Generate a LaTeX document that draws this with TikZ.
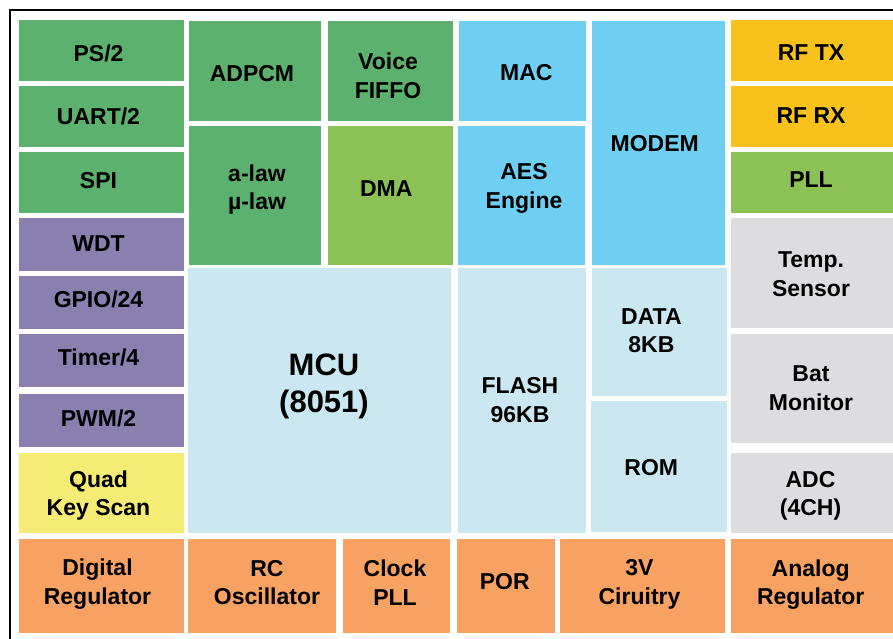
\documentclass[tikz,border=0pt]{standalone}
\usepackage{fontspec}
\setmainfont{Liberation Sans}
\usetikzlibrary{calc}
\definecolor{cgreen}{RGB}{93,177,110}
\definecolor{clgreen}{RGB}{139,193,85}
\definecolor{cpurple}{RGB}{138,127,175}
\definecolor{cyellow}{RGB}{245,236,117}
\definecolor{cblue}{RGB}{110,207,243}
\definecolor{clblue}{RGB}{203,232,242}
\definecolor{cgold}{RGB}{248,193,28}
\definecolor{cgray}{RGB}{221,221,223}
\definecolor{corange}{RGB}{247,162,99}
% box from (x1,y1) to (x2,y2), text centred at (cx,cy)
\newcommand\blkbox[7][]{%
  \fill[#3] (#4) rectangle (#5);
  \node[blk,#1] (#2) at (#6) {#7};}
\begin{document}
\begin{tikzpicture}[x=1pt,y=-1pt,
  blk/.style={inner sep=0pt, outer sep=0pt, align=center, text depth=0pt,
    font=\fontsize{23}{28.5}\selectfont\bfseries},
  big/.style={font=\fontsize{31}{37}\selectfont\bfseries}]
\useasboundingbox (0,0) rectangle (893,638);
\clip (0,0) rectangle (893,638);
% frame
\draw[line width=2.4pt] (10,700) -- (10,10) -- (950,10);
% left column
\blkbox{ps2}{cgreen}{19,20}{184,80.7}{98.5,53.3}{PS/2}
\blkbox{uart}{cgreen}{19,86}{184,146.7}{98.5,115.7}{UART/2}
\blkbox{spi}{cgreen}{19,152}{184,212.7}{98.5,180}{SPI}
\blkbox{wdt}{cpurple}{19,218}{184,270.7}{98.5,243.3}{WDT}
\blkbox{gpio}{cpurple}{19,276}{184,328.7}{98.5,299.5}{GPIO/24}
\blkbox{timer}{cpurple}{19,334}{184,386.7}{98.5,357}{Timer/4}
\blkbox{pwm}{cpurple}{19,394}{184,446.7}{98.5,418}{PWM/2}
\blkbox{quad}{cyellow}{19,453}{184,532.7}{98.5,493}{Quad\\Key Scan}
\blkbox{dreg}{corange}{19,539}{184,633.3}{97.5,581.7}{Digital\\Regulator}
% middle
\blkbox{adpcm}{cgreen}{189,21}{320.7,120.7}{252,73}{ADPCM}
\blkbox{alaw}{cgreen}{189,126}{320.7,265}{257,187}{a-law\\µ-law}
\blkbox{voice}{cgreen}{328.3,21}{453,120.7}{388,75.7}{Voice\\FIFFO}
\blkbox{dma}{clgreen}{328.3,126}{453,265}{386.3,188.5}{DMA}
\blkbox[big]{mcu}{clblue}{188,267.7}{450.7,532.7}{324,382.7}{MCU\\(8051)}
\blkbox{mac}{cblue}{459,21}{586,120.7}{526.3,72}{MAC}
\blkbox{aes}{cblue}{458,126}{585,265}{524,186}{AES\\Engine}
\blkbox{flash}{clblue}{458,267.7}{586,532.7}{520,400}{FLASH\\96KB}
\blkbox{modem}{cblue}{592,21}{725,265}{654.7,143.5}{MODEM}
\blkbox{data}{clblue}{592,267.7}{727,395.7}{651.4,330.5}{DATA\\8KB}
\blkbox{rom}{clblue}{591,400.5}{726.7,531.7}{651.3,467}{ROM}
% right column
\blkbox{rftx}{cgold}{731,20}{893,80.7}{811,53}{RF TX}
\blkbox{rfrx}{cgold}{731,86}{893,146.7}{811,115.3}{RF RX}
\blkbox{pll}{clgreen}{731,152}{893,212.7}{811,180}{PLL}
\blkbox{temp}{cgray}{731,218}{893,328.3}{811,274}{Temp.\\Sensor}
\blkbox{bat}{cgray}{731,334}{893,442.7}{811,388}{Bat\\Monitor}
\blkbox{adc}{cgray}{731,453}{893,532.7}{810.5,493.5}{ADC\\(4CH)}
% bottom row
\blkbox{rc}{corange}{188,539}{335.7,633.3}{267,582.5}{RC\\Oscillator}
\blkbox{cpll}{corange}{343,539}{450,633.3}{395,582.5}{Clock\\PLL}
\blkbox{por}{corange}{457.3,539}{555,633.3}{504.7,581.3}{POR}
\blkbox{v3}{corange}{560,539}{725,633.3}{639.5,582}{3V\\Ciruitry}
\blkbox{areg}{corange}{731,539}{893,633.3}{810.7,582}{Analog\\Regulator}
\end{tikzpicture}
\end{document}
